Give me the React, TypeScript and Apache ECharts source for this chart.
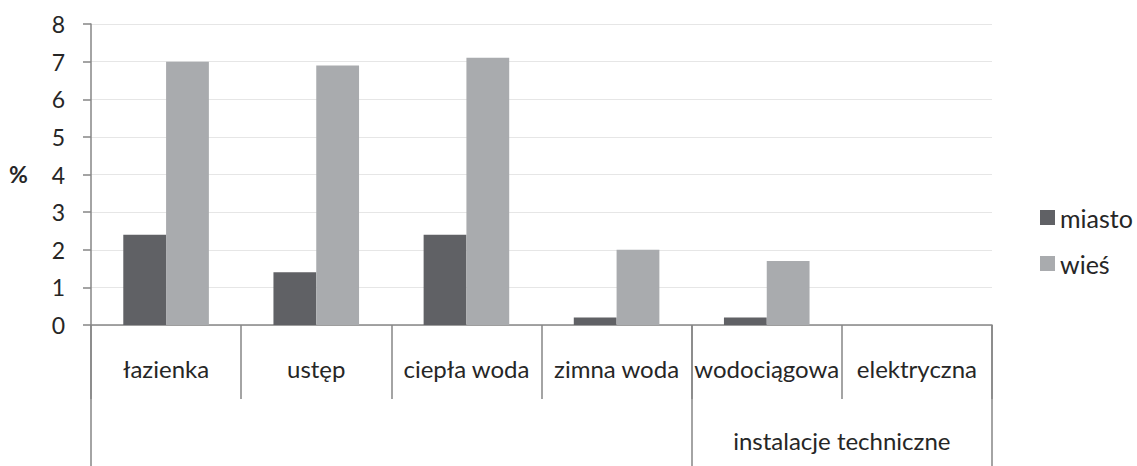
import React, { useEffect, useRef } from "react";
import * as echarts from "echarts";

const categories = ["łazienka", "ustęp", "ciepła woda", "zimna woda", "wodociągowa", "elektryczna"];
const miasto = [2.4, 1.4, 2.4, 0.2, 0.2, 0];
const wies = [7.0, 6.9, 7.1, 2.0, 1.7, 0];
const groupLabel = "instalacje techniczne";
const groupBounds = [0, 4, 6];
const groupLabelPos = [5];

export default function App() {
  const ref = useRef<HTMLDivElement>(null);
  useEffect(() => {
    if (!ref.current) return;
    const chart = echarts.init(ref.current, null, { renderer: "svg" });
    const font = "Lato, 'Open Sans', sans-serif";
    const textColor = "#262626";
    const axisColor = "#868686";
    chart.setOption({
      animation: false,
      textStyle: { fontFamily: font },
      grid: { left: 91, right: 145, top: 24, bottom: 141, containLabel: false },
      legend: {
        orient: "vertical",
        left: 1035,
        top: 200,
        itemWidth: 15,
        itemHeight: 15,
        itemGap: 21,
        icon: "rect",
        textStyle: { fontSize: 25, color: textColor, fontFamily: font, padding: [0, 0, 0, 0] },
        data: ["miasto", "wieś"],
      },
      graphic: [
        {
          type: "text",
          left: 9,
          top: 162,
          style: { text: "%", font: `bold 23px ${font}`, fill: textColor },
        },
      ],
      xAxis: [
        {
          type: "category",
          data: categories,
          position: "bottom",
          axisLine: { show: true, lineStyle: { color: axisColor, width: 1.5 } },
          axisTick: { show: true, interval: 0, length: 74, lineStyle: { color: axisColor, width: 1.5 } },
          axisLabel: { interval: 0, margin: 31, fontSize: 24, color: textColor, fontFamily: font },
        },
        {
          type: "value",
          min: 0,
          max: 6,
          position: "bottom",
          axisLine: { show: false },
          splitLine: { show: false },
          axisTick: {
            show: true,
            customValues: groupBounds,
            length: 141,
            lineStyle: { color: axisColor, width: 1.5 },
          },
          axisLabel: {
            customValues: groupLabelPos,
            margin: 103,
            fontSize: 24,
            color: textColor,
            fontFamily: font,
            formatter: () => groupLabel,
          },
        },
      ],
      yAxis: {
        type: "value",
        min: 0,
        max: 8,
        interval: 1,
        axisLine: { show: true, lineStyle: { color: axisColor, width: 1.5 } },
        axisTick: { show: true, length: 8, lineStyle: { color: axisColor, width: 1.5 } },
        axisLabel: { fontSize: 23, color: textColor, margin: 26, fontFamily: font },
        splitLine: { show: true, lineStyle: { color: "#e6e6e6", width: 1 } },
      },
      series: [
        {
          name: "miasto",
          type: "bar",
          data: miasto,
          xAxisIndex: 0,
          barGap: "0%",
          barCategoryGap: "43%",
          itemStyle: { color: "#606165" },
        },
        {
          name: "wieś",
          type: "bar",
          data: wies,
          xAxisIndex: 0,
          barGap: "0%",
          barCategoryGap: "43%",
          itemStyle: { color: "#a9abae" },
        },
      ],
    });
    return () => chart.dispose();
  }, []);
  return <div ref={ref} style={{ width: 1137, height: 466, position: "absolute", left: 0, top: 0 }} />;
}
